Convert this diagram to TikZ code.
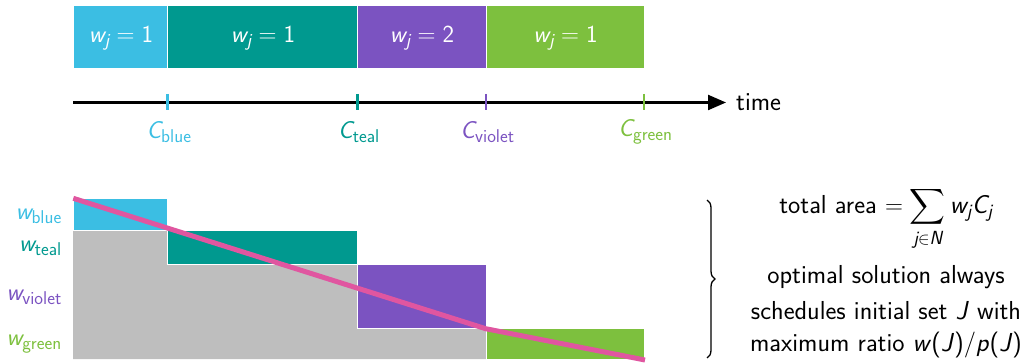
\documentclass[tikz,border=0pt]{standalone}
\usepackage{amsmath}
\usepackage{fontspec}
\renewcommand{\familydefault}{\sfdefault}
\usetikzlibrary{arrows.meta,decorations.pathreplacing}
\DeclareMathSizes{24.5}{24.5}{18.5}{14}
\DeclareMathSizes{26}{26}{19}{15}
\definecolor{jblue}{HTML}{3BBEE3}
\definecolor{jteal}{HTML}{00998F}
\definecolor{jviolet}{HTML}{7B53C1}
\definecolor{jgreen}{HTML}{7DC03E}
\definecolor{jgray}{HTML}{BEBEBE}
\definecolor{jpink}{HTML}{E056A0}
\newcommand{\vv}[1]{\textit{#1}}
\tikzset{
  big/.style={font=\fontsize{24.5}{29}\selectfont, inner sep=0pt},
  bigger/.style={font=\fontsize{26}{31}\selectfont, inner sep=0pt},
  bartext/.style={big, text=white},
  jobbox/.style={draw=white, line width=1pt},
  tickmark/.style={line width=2.2pt},
  axisline/.style={line width=2.3pt, -{Triangle[length=18pt,width=15pt]}},
  ratioline/.style={draw=jpink, line width=5pt},
}
\begin{document}
\begin{tikzpicture}[x=1pt,y=-1pt]
\useasboundingbox (0,0) rectangle (1024,363);
% top schedule bars
\fill[jblue,jobbox] (73,6) rectangle (167.5,69);
\fill[jteal,jobbox] (167.5,6) rectangle (357.5,69);
\fill[jviolet,jobbox] (357.5,6) rectangle (486,69);
\fill[jgreen,jobbox] (486,6) rectangle (644,69);
\node[bartext] (tb) at (121,38) {$\vv{w}_{\vv{j}}=\textup{1}$};
\node[bartext] (tt) at (263,38) {$\vv{w}_{\vv{j}}=\textup{1}$};
\node[bartext] (tv) at (422,38) {$\vv{w}_{\vv{j}}=\textup{2}$};
\node[bartext] (tg) at (565.5,38) {$\vv{w}_{\vv{j}}=\textup{1}$};
% time axis
\coordinate (ax0) at (73,102.5);
\coordinate (ax1) at (726,102.5);
\draw[axisline] (ax0) -- (ax1);
\node[bigger, anchor=west] (time) at (736,102.5) {time};
\foreach \x/\c/\n in {167.5/jblue/blue, 357.5/jteal/teal, 486/jviolet/violet, 644/jgreen/green}{
  \coordinate (t\n a) at (\x,94);
  \coordinate (t\n b) at (\x,110);
  \draw[tickmark,\c] (t\n a) -- (t\n b);
  \node[big, text=\c] (C\n) at (\x+1.5,132) {$\vv{C}_{\textup{\n}}$};
}
% lower area diagram
\fill[jgray] (73,231) -- (167.5,231) -- (167.5,264) -- (357.5,264) -- (357.5,328) -- (486,328) -- (486,359) -- (73,359) -- cycle;
\fill[jblue,jobbox] (73,199) rectangle (167.5,231);
\fill[jteal,jobbox] (167.5,231) rectangle (357.5,264);
\fill[jviolet,jobbox] (357.5,264) rectangle (486,328);
\fill[jgreen,jobbox] (486,328) rectangle (644,359);
\coordinate (r0) at (73.3,198.3);
\coordinate (r1) at (485.7,328.7);
\coordinate (r2) at (645,360);
\draw[ratioline] (r0) -- (r1) -- (r2);
\node[big, text=jblue, anchor=east] (wb) at (62,216) {$\vv{w}_{\textup{blue}}$};
\node[big, text=jteal, anchor=east] (wt) at (62,248) {$\vv{w}_{\textup{teal}}$};
\node[big, text=jviolet, anchor=east] (wv) at (62,297) {$\vv{w}_{\textup{violet}}$};
\node[big, text=jgreen, anchor=east] (wg) at (62,344) {$\vv{w}_{\textup{green}}$};
% brace and text
\coordinate (b0) at (707,200);
\coordinate (b1) at (707,358);
\draw[line width=1.3pt, decorate, decoration={brace, amplitude=8pt}] (b0) -- (b1);
\node[bigger] (area) at (886,219) {total area $=\displaystyle\sum_{\vv{j}\in\vv{N}}\vv{w}_{\vv{j}}\vv{C}_{\vv{j}}$};
\node[bigger] (l1) at (886,277) {optimal solution always};
\node[bigger] (l2) at (886,311) {schedules initial set \vv{J} with};
\node[bigger] (l3) at (886,345) {maximum ratio \vv{w}(\vv{J})/\vv{p}(\vv{J})};
\end{tikzpicture}
\end{document}
